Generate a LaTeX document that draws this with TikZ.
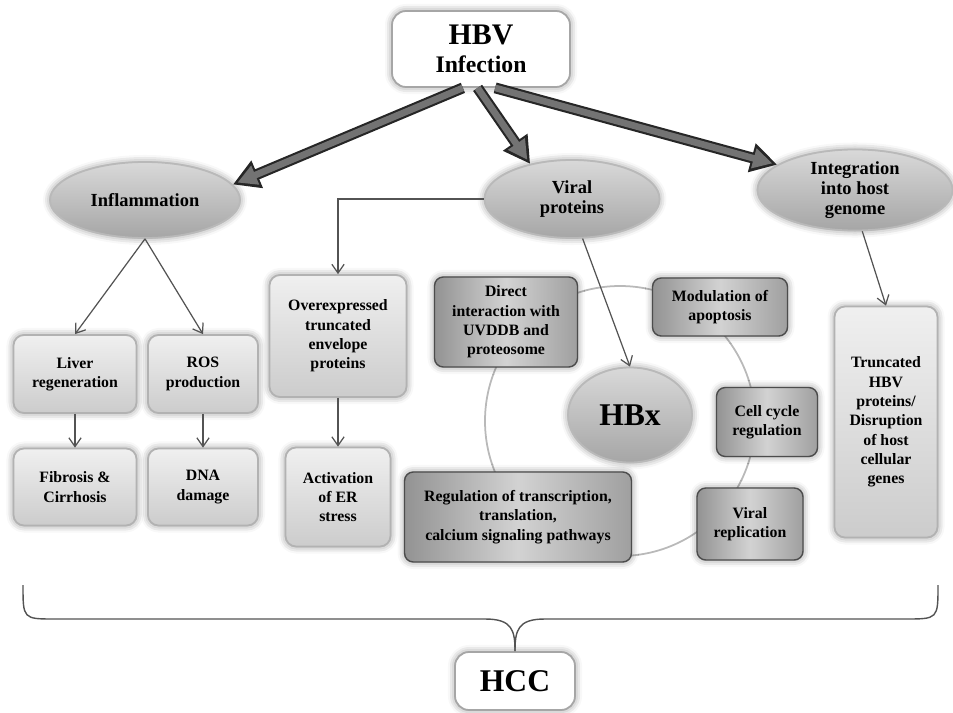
\documentclass[tikz,border=0pt]{standalone}
\usepackage{fontspec}
\setmainfont{Liberation Serif}
\usepackage{tikz}
\usetikzlibrary{arrows.meta,shapes.geometric,shadows.blur}

\begin{document}
\begin{tikzpicture}[x=0.02cm,y=-0.02cm,
glow/.style={blur shadow={shadow xshift=0pt,shadow yshift=0pt,shadow blur radius=4pt,shadow opacity=45}},
lbox/.style={draw=gray!60,line width=1pt,rounded corners=6pt,top color=gray!12,bottom color=gray!40,align=center,font=\bfseries\fontsize{9}{11}\selectfont,glow,inner sep=1pt},
dbox/.style={draw=gray!60!black,line width=0.8pt,rounded corners=5pt,left color=gray!85,right color=gray!75,middle color=gray!35,align=center,font=\bfseries\fontsize{9}{11}\selectfont,glow,inner sep=1pt},
oval/.style={ellipse,draw=gray!55,line width=1pt,top color=gray!30,bottom color=gray!70,align=center,font=\bfseries\fontsize{10.5}{11.5}\selectfont,glow,inner sep=0pt},
wbox/.style={draw=gray!70,line width=1pt,rounded corners=8pt,fill=white,align=center,glow,font=\bfseries},
thin/.style={draw=gray!65!black,line width=0.7pt,-{Straight Barb[length=5pt,width=7pt]}},
fat/.style={line width=3.8pt,draw=black!55,shorten >=2.8pt,-{Triangle[length=11pt,width=11pt]},
  preaction={draw=black!85,line width=6.2pt,shorten >=0pt,-{Triangle[length=15pt,width=16pt]}}}]
\useasboundingbox (0,0) rectangle (953,713);
\draw[gray!55,line width=1pt](620,421)circle[radius=135];
\node[wbox,minimum width=3.56cm,minimum height=1.52cm](hbv)at(481,49){{\fontsize{17}{19}\selectfont HBV}\\[4pt]{\fontsize{13.5}{16}\selectfont Infection}};
\node[oval,minimum width=3.8cm,minimum height=1.52cm](inflam)at(145,200){Inflammation};
\node[oval,minimum width=3.5cm,minimum height=1.56cm](viral)at(572,199){Viral\\proteins};
\node[oval,minimum width=3.9cm,minimum height=1.6cm](integ)at(855,190){Integration\\into host\\genome};
\node[lbox,minimum width=2.46cm,minimum height=1.56cm](liver)at(75,374){Liver\\regeneration};
\node[lbox,minimum width=2.2cm,minimum height=1.56cm](ros)at(203,374){ROS\\production};
\node[lbox,minimum width=2.46cm,minimum height=1.54cm](fib)at(75,487){Fibrosis \&\\Cirrhosis};
\node[lbox,minimum width=2.2cm,minimum height=1.54cm](dna)at(203,487){DNA\\damage};
\node[lbox,minimum width=2.74cm,minimum height=2.44cm](over)at(338,336){Overexpressed\\truncated\\envelope\\proteins};
\node[lbox,minimum width=2.1cm,minimum height=1.98cm](act)at(338,497){Activation\\of ER\\stress};
\node[dbox,minimum width=2.86cm,minimum height=1.8cm](direct)at(506,322){Direct\\interaction with\\UVDDB and\\proteosome};
\node[oval,minimum width=2.48cm,minimum height=1.9cm,font=\bfseries\fontsize{18}{20}\selectfont](hbx)at(630,415){HBx};
\node[dbox,minimum width=2.7cm,minimum height=1.16cm](modul)at(720,307){Modulation of\\apoptosis};
\node[dbox,minimum width=2.02cm,minimum height=1.38cm](cell)at(767,422){Cell cycle\\regulation};
\node[dbox,minimum width=2.12cm,minimum height=1.44cm](virrep)at(750,524){Viral\\replication};
\node[dbox,minimum width=4.54cm,minimum height=1.8cm](regul)at(518,517){Regulation of transcription,\\translation,\\calcium signaling pathways};
\node[lbox,minimum width=2.06cm,minimum height=4.62cm](trunc)at(886,422){Truncated\\HBV\\proteins/\\Disruption\\of host\\cellular\\genes};
\node[wbox,minimum width=2.4cm,minimum height=1.16cm,font=\bfseries\fontsize{18}{20}\selectfont](hcc)at(515,681){HCC};
\draw[fat](hbv.-115)--(inflam.10);
\draw[fat](hbv.-95)--(viral.140);
\draw[fat](hbv.-70)--(integ.162);
\draw[thin](inflam.south)--(liver.north);
\draw[thin](inflam.south)--(ros.north);
\draw[thin](liver)--(fib);
\draw[thin](ros)--(dna);
\draw[thin](viral.west)-|(over.north);
\draw[thin](over)--(act);
\draw[thin](viral.-75)--(hbx.north);
\draw[thin](integ.-80)--(trunc.north);
\draw[gray!65!black,line width=0.8pt](23,585)..controls(23,619)..(55,619)--(485,619)..controls(512,619)and(515,630)..(hcc.north);
\draw[gray!65!black,line width=0.8pt](938,585)..controls(938,619)..(905,619)--(545,619)..controls(518,619)and(515,630)..(hcc.north);
\end{tikzpicture}
\end{document}
